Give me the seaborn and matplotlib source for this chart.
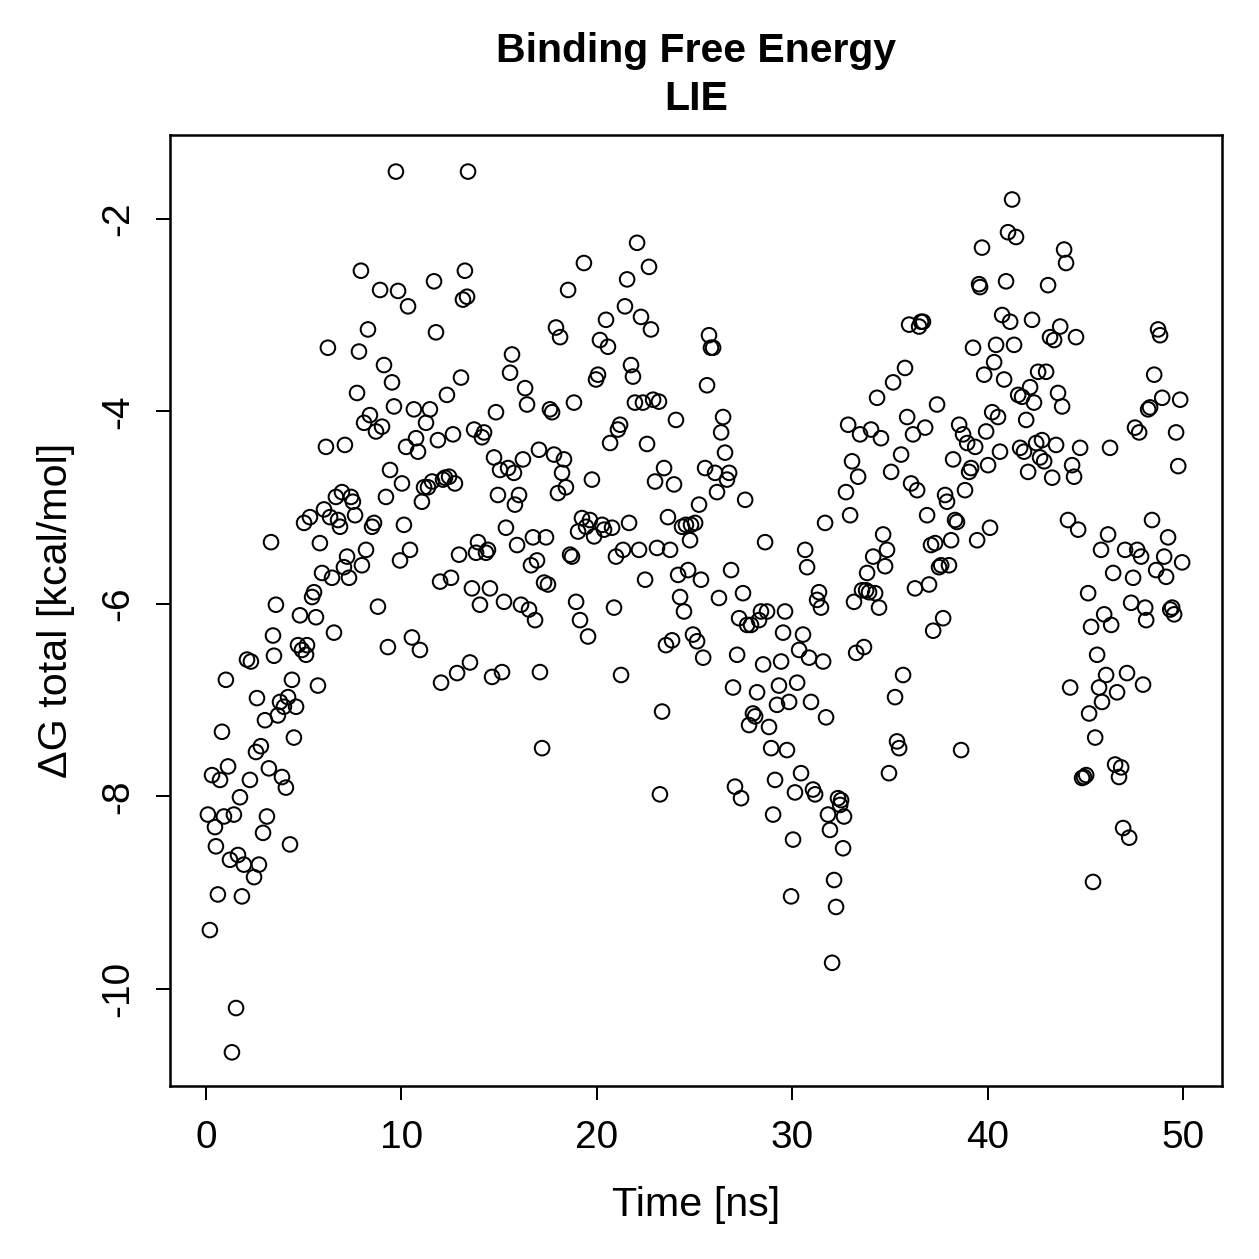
import numpy as np
import pandas as pd
import matplotlib
matplotlib.use("Agg")
import matplotlib.pyplot as plt
import seaborn as sns

time_ns = [
    0.10, 0.20, 0.31, 0.46, 0.51, 0.61, 0.72, 0.82, 0.92, 1.02,
    1.13, 1.23, 1.33, 1.43, 1.54, 1.64, 1.74, 1.84, 1.94, 2.10,
    2.25, 2.30, 2.46, 2.56, 2.61, 2.71, 2.81, 2.92, 3.02, 3.12,
    3.22, 3.33, 3.43, 3.48, 3.58, 3.68, 3.79, 3.89, 3.99, 4.09,
    4.20, 4.30, 4.40, 4.50, 4.61, 4.71, 4.81, 4.91, 5.02, 5.12,
    5.17, 5.32, 5.43, 5.53, 5.63, 5.73, 5.83, 5.94, 6.04, 6.14,
    6.24, 6.35, 6.45, 6.55, 6.65, 6.76, 6.86, 6.96, 7.06, 7.11,
    7.22, 7.32, 7.42, 7.52, 7.63, 7.73, 7.83, 7.93, 7.98, 8.09,
    8.19, 8.29, 8.39, 8.50, 8.60, 8.70, 8.80, 8.91, 9.01, 9.11,
    9.21, 9.31, 9.42, 9.52, 9.62, 9.72, 9.83, 9.93, 10.03, 10.13,
    10.24, 10.34, 10.44, 10.54, 10.64, 10.75, 10.85, 10.95, 11.05, 11.16,
    11.26, 11.36, 11.46, 11.57, 11.67, 11.77, 11.87, 11.98, 12.03, 12.13,
    12.23, 12.33, 12.44, 12.54, 12.64, 12.74, 12.85, 12.95, 13.05, 13.15,
    13.25, 13.36, 13.41, 13.51, 13.61, 13.72, 13.82, 13.92, 14.02, 14.12,
    14.23, 14.33, 14.43, 14.53, 14.64, 14.74, 14.84, 14.94, 15.05, 15.15,
    15.25, 15.35, 15.46, 15.56, 15.66, 15.76, 15.81, 15.92, 16.02, 16.12,
    16.22, 16.33, 16.43, 16.53, 16.63, 16.73, 16.84, 16.94, 17.04, 17.09,
    17.20, 17.30, 17.40, 17.50, 17.60, 17.71, 17.81, 17.91, 18.01, 18.12,
    18.22, 18.32, 18.42, 18.53, 18.63, 18.73, 18.83, 18.94, 19.04, 19.14,
    19.24, 19.34, 19.45, 19.55, 19.65, 19.75, 19.86, 19.96, 20.06, 20.16,
    20.27, 20.37, 20.47, 20.57, 20.68, 20.78, 20.88, 20.98, 21.08, 21.19,
    21.24, 21.34, 21.44, 21.55, 21.65, 21.75, 21.85, 21.95, 22.06, 22.16,
    22.26, 22.36, 22.47, 22.57, 22.67, 22.77, 22.88, 22.98, 23.08, 23.18,
    23.23, 23.34, 23.44, 23.54, 23.64, 23.75, 23.85, 23.95, 24.05, 24.16,
    24.26, 24.36, 24.46, 24.56, 24.67, 24.77, 24.82, 24.92, 25.03, 25.13,
    25.23, 25.33, 25.44, 25.54, 25.64, 25.74, 25.84, 25.95, 26.05, 26.15,
    26.25, 26.36, 26.46, 26.56, 26.66, 26.77, 26.87, 26.97, 27.07, 27.18,
    27.28, 27.38, 27.48, 27.59, 27.69, 27.79, 27.89, 27.99, 28.10, 28.20,
    28.30, 28.40, 28.51, 28.61, 28.71, 28.81, 28.92, 29.02, 29.12, 29.22,
    29.32, 29.43, 29.53, 29.63, 29.73, 29.84, 29.94, 30.04, 30.14, 30.25,
    30.35, 30.45, 30.55, 30.66, 30.76, 30.86, 30.96, 31.06, 31.17, 31.27,
    31.37, 31.47, 31.58, 31.68, 31.73, 31.83, 31.93, 32.04, 32.14, 32.24,
    32.34, 32.45, 32.50, 32.60, 32.65, 32.75, 32.86, 32.96, 33.06, 33.16,
    33.27, 33.37, 33.47, 33.57, 33.67, 33.78, 33.83, 33.93, 34.03, 34.14,
    34.24, 34.34, 34.44, 34.54, 34.65, 34.75, 34.85, 34.95, 35.06, 35.16,
    35.26, 35.36, 35.47, 35.57, 35.67, 35.77, 35.88, 35.98, 36.08, 36.18,
    36.28, 36.39, 36.49, 36.59, 36.69, 36.80, 36.90, 37.00, 37.10, 37.21,
    37.31, 37.41, 37.51, 37.62, 37.72, 37.82, 37.92, 38.02, 38.13, 38.23,
    38.33, 38.43, 38.54, 38.64, 38.74, 38.84, 38.95, 39.05, 39.15, 39.25,
    39.36, 39.46, 39.56, 39.61, 39.71, 39.82, 39.92, 40.02, 40.12, 40.23,
    40.33, 40.43, 40.53, 40.63, 40.74, 40.84, 40.94, 41.04, 41.15, 41.25,
    41.35, 41.45, 41.56, 41.66, 41.76, 41.86, 41.97, 42.07, 42.17, 42.27,
    42.37, 42.48, 42.58, 42.68, 42.78, 42.89, 42.99, 43.09, 43.19, 43.30,
    43.40, 43.50, 43.60, 43.71, 43.81, 43.91, 44.01, 44.11, 44.22, 44.32,
    44.42, 44.52, 44.63, 44.73, 44.83, 44.93, 45.04, 45.14, 45.19, 45.29,
    45.39, 45.50, 45.60, 45.70, 45.80, 45.85, 45.96, 46.06, 46.16, 46.26,
    46.32, 46.42, 46.52, 46.62, 46.72, 46.83, 46.93, 47.03, 47.13, 47.24,
    47.34, 47.44, 47.54, 47.65, 47.75, 47.85, 47.95, 48.06, 48.11, 48.21,
    48.31, 48.41, 48.52, 48.62, 48.72, 48.82, 48.93, 49.03, 49.13, 49.23,
    49.34, 49.44, 49.54, 49.64, 49.75, 49.85, 49.95,
]

dg_total = [
    -8.19, -9.39, -7.78, -8.32, -8.52, -9.02, -7.83, -7.33, -8.21, -6.79,
    -7.69, -8.66, -10.66, -8.19, -10.20, -8.61, -8.01, -9.04, -8.71, -6.58,
    -7.83, -6.60, -8.84, -7.54, -6.98, -8.71, -7.48, -8.38, -7.21, -8.21,
    -7.71, -5.36, -6.33, -6.54, -6.01, -7.16, -7.02, -7.80, -7.07, -7.91,
    -6.97, -8.50, -6.79, -7.39, -7.07, -6.43, -6.12, -6.48, -5.16, -6.53,
    -6.43, -5.10, -5.93, -5.88, -6.14, -6.85, -5.37, -5.68, -5.02, -4.37,
    -3.34, -5.10, -5.73, -6.30, -4.89, -5.13, -5.20, -4.84, -5.62, -4.35,
    -5.51, -5.73, -4.89, -4.94, -5.08, -3.81, -3.38, -2.54, -5.60, -4.12,
    -5.44, -3.15, -4.04, -5.20, -5.16, -4.21, -6.03, -2.74, -4.16, -3.52,
    -4.89, -6.45, -4.61, -3.70, -3.95, -1.51, -2.75, -5.55, -4.75, -5.18,
    -4.37, -2.91, -5.44, -6.35, -3.98, -4.28, -4.42, -6.48, -4.94, -4.79,
    -4.12, -4.79, -3.98, -4.73, -2.65, -3.18, -4.30, -5.77, -6.82, -4.71,
    -4.69, -3.83, -4.68, -5.73, -4.24, -4.75, -6.72, -5.49, -3.65, -2.84,
    -2.54, -2.81, -1.51, -6.61, -5.84, -4.19, -5.47, -5.36, -6.01, -4.27,
    -4.22, -5.47, -5.44, -5.84, -6.76, -4.48, -4.01, -4.87, -4.61, -6.71,
    -5.98, -5.21, -4.59, -3.60, -3.41, -4.64, -4.97, -5.39, -4.87, -6.01,
    -4.50, -3.76, -3.93, -6.06, -5.60, -5.31, -6.17, -5.55, -4.40, -6.71,
    -7.50, -5.78, -5.31, -5.80, -3.98, -4.01, -4.45, -3.13, -4.85, -3.23,
    -4.64, -4.50, -4.79, -2.74, -5.49, -5.51, -3.91, -5.98, -5.25, -6.17,
    -5.11, -2.46, -5.20, -6.34, -5.13, -4.71, -5.30, -3.67, -3.62, -3.26,
    -5.18, -5.23, -3.05, -3.33, -4.33, -5.21, -6.04, -5.51, -4.19, -4.14,
    -6.74, -5.44, -2.91, -2.63, -5.16, -3.52, -3.64, -3.91, -2.25, -5.44,
    -3.02, -3.91, -5.75, -4.34, -2.50, -3.15, -3.88, -4.73, -5.42, -3.90,
    -7.98, -7.12, -4.59, -6.43, -5.10, -5.44, -6.38, -4.76, -4.09, -5.70,
    -5.93, -5.20, -6.08, -5.18, -5.65, -5.34, -5.18, -6.32, -5.16, -6.39,
    -4.97, -5.75, -6.56, -4.59, -3.73, -3.21, -3.34, -3.34, -4.64, -4.84,
    -5.94, -4.22, -4.06, -4.43, -4.71, -4.64, -5.65, -6.87, -7.90, -6.53,
    -6.15, -8.02, -5.89, -4.92, -6.22, -7.26, -6.22, -7.14, -7.17, -6.92,
    -6.17, -6.08, -6.63, -5.36, -6.08, -7.28, -7.50, -8.19, -7.83, -7.05,
    -6.85, -6.60, -6.30, -6.08, -7.52, -7.02, -9.04, -8.45, -7.96, -6.82,
    -6.48, -7.76, -6.32, -5.44, -5.62, -6.56, -7.02, -7.93, -7.98, -5.96,
    -5.88, -6.04, -6.60, -5.16, -7.18, -8.19, -8.35, -9.73, -8.87, -9.15,
    -8.02, -8.09, -8.04, -8.54, -8.21, -4.84, -4.14, -5.08, -4.52, -5.98,
    -6.51, -4.68, -4.24, -5.86, -6.45, -5.86, -5.68, -5.88, -4.19, -5.51,
    -5.89, -3.86, -6.04, -4.28, -5.28, -5.61, -5.44, -7.76, -4.63, -3.70,
    -6.97, -7.43, -7.50, -4.45, -6.74, -3.55, -4.06, -3.10, -4.75, -4.24,
    -5.84, -4.82, -3.12, -3.07, -3.07, -4.17, -5.08, -5.80, -5.39, -6.28,
    -5.37, -3.93, -5.62, -5.60, -6.15, -4.87, -4.94, -5.60, -5.34, -4.50,
    -5.13, -5.15, -4.14, -7.52, -4.24, -4.82, -4.33, -4.63, -4.59, -3.34,
    -4.37, -5.34, -2.68, -2.71, -2.30, -3.62, -4.21, -4.56, -5.21, -4.01,
    -3.49, -3.31, -4.06, -4.42, -3.00, -3.67, -2.65, -2.14, -3.07, -1.80,
    -3.31, -2.19, -3.83, -4.38, -3.85, -4.42, -4.09, -4.63, -3.75, -3.05,
    -3.91, -4.33, -3.59, -4.48, -4.30, -4.52, -3.59, -2.69, -3.23, -4.69,
    -3.26, -4.35, -3.81, -3.12, -3.95, -2.32, -2.46, -5.13, -6.87, -4.56,
    -4.68, -3.23, -5.23, -4.38, -7.81, -7.80, -7.78, -5.89, -7.14, -6.24,
    -8.89, -7.39, -6.53, -6.87, -5.44, -7.02, -6.11, -6.74, -5.28, -4.38,
    -6.22, -5.68, -7.67, -6.92, -7.80, -7.70, -8.33, -5.44, -6.72, -8.43,
    -5.99, -5.73, -4.17, -5.44, -4.22, -5.51, -6.84, -6.04, -6.17, -3.98,
    -3.96, -5.13, -3.62, -5.65, -3.15, -3.21, -3.86, -5.51, -5.72, -5.31,
    -6.06, -6.04, -6.11, -4.22, -4.57, -3.88, -5.57,
]

x_ticks = [0, 10, 20, 30, 40, 50]
y_ticks = [-10, -8, -6, -4, -2]
title_text = "Binding Free Energy\nLIE"
x_label = "Time [ns]"
y_label = "\u0394G total [kcal/mol]"

df = pd.DataFrame({"time": time_ns, "dg": dg_total})

sns.set_style("ticks")
plt.rcParams["font.family"] = ["Liberation Sans", "DejaVu Sans"]
plt.rcParams["text.color"] = "black"
plt.rcParams["axes.labelcolor"] = "black"
plt.rcParams["xtick.color"] = "black"
plt.rcParams["ytick.color"] = "black"
plt.rcParams["axes.edgecolor"] = "black"

dpi = 180
fig = plt.figure(figsize=(1259 / dpi, 1259 / dpi), dpi=dpi)
ax = fig.add_axes([170 / 1259, 1 - 1086 / 1259, (1222 - 170) / 1259, (1086 - 135) / 1259])

sns.scatterplot(data=df, x="time", y="dg", ax=ax, marker="o", s=34,
                facecolor="none", edgecolor="black", linewidth=0.8)

ax.set_xlim(-1.84, 51.99)
ax.set_ylim(-11.01, -1.13)
ax.set_xticks(x_ticks)
ax.set_yticks(y_ticks)
ax.set_xticklabels([str(v) for v in x_ticks], fontsize=15.5)
ax.set_yticklabels([str(v) for v in y_ticks], fontsize=15.5, rotation=90, va="center")
ax.tick_params(axis="both", direction="out", length=5.6, width=0.8, color="black", pad=8)
for sp in ax.spines.values():
    sp.set_visible(True)
    sp.set_linewidth(1.0)
    sp.set_color("black")

ax.set_xlabel(x_label, fontsize=16.5, labelpad=12)
ax.set_ylabel(y_label, fontsize=16.5, labelpad=10)
ax.set_title(title_text, fontsize=16.4, fontweight="bold", pad=10, linespacing=1.35)

fig.savefig("out.png", dpi=dpi, facecolor="white")
